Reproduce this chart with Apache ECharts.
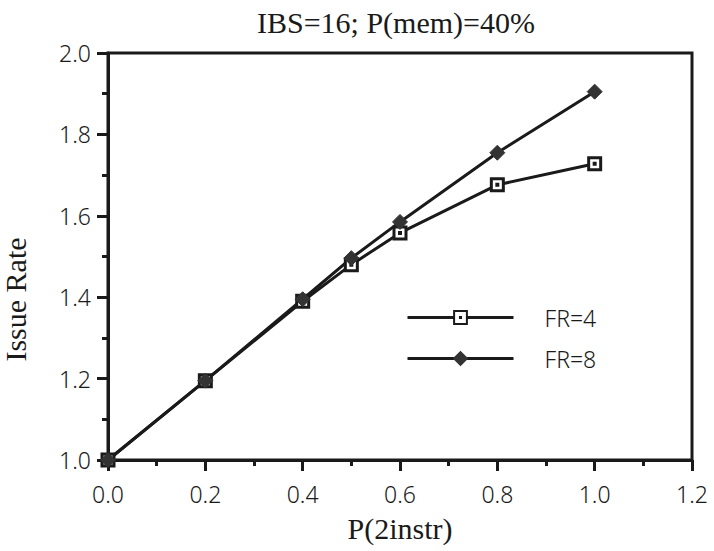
<!DOCTYPE html>
<html>
<head>
<meta charset="utf-8">
<script src="https://cdn.jsdelivr.net/npm/echarts@6/dist/echarts.min.js"></script>
<style>
  html, body { margin: 0; padding: 0; background: #fff; }
  #chart { width: 714px; height: 551px; }
</style>
</head>
<body>
<div id="chart"></div>
<script>
// values
const pInstr = [0, 0.2, 0.4, 0.5, 0.6, 0.8, 1.0];
const fr4 = [1.0, 1.195, 1.39, 1.48, 1.558, 1.676, 1.728];
const fr8 = [1.0, 1.195, 1.395, 1.496, 1.585, 1.755, 1.905];
const seriesNames = ['FR=4', 'FR=8'];

const ink = '#1a1a1a';
const serif = '"Liberation Serif", "Times New Roman", serif';
const sans = '"Noto Sans", "DejaVu Sans", sans-serif';
// open square with a dot in the middle
const squareDot = 'path://M0,0H12V12H0Z M5.5,5.5H6.5V6.5H5.5Z';

const pairs = (ys) => pInstr.map((x, i) => [x, ys[i]]);

const chart = echarts.init(document.getElementById('chart'), null, {renderer: 'svg'});

const option = {
  backgroundColor: '#fff',
  animation: false,
  title: {
    text: 'IBS=16; P(mem)=40%',
    left: 391,
    top: 2,
    textAlign: 'center',
    textStyle: {fontFamily: serif, fontSize: 30, fontWeight: 'normal', color: ink}
  },
  legend: {
    orient: 'vertical',
    left: 401,
    top: 301,
    itemWidth: 106,
    itemHeight: 16,
    itemGap: 18,
    data: seriesNames,
    lineStyle: {width: 3, color: ink},
    textStyle: {fontFamily: sans, fontSize: 23, fontWeight: 300, color: ink, padding: [0, 0, 0, 26]}
  },
  grid: {
    left: 108, right: 22, top: 53, bottom: 91,
    outerBoundsMode: 'none',
    show: true, borderColor: ink, borderWidth: 3
  },
  xAxis: {
    type: 'value',
    min: 0, max: 1.2, interval: 0.2,
    name: 'P(2instr)',
    nameLocation: 'middle',
    nameGap: 53,
    nameTextStyle: {fontFamily: serif, fontSize: 30, color: ink},
    axisLine: {show: true, lineStyle: {color: ink, width: 3}},
    axisTick: {show: true, inside: false, length: 11, lineStyle: {color: ink, width: 3}},
    minorTick: {show: true, splitNumber: 2, length: 6, lineStyle: {color: ink, width: 3}},
    splitLine: {show: false},
    axisLabel: {
      margin: 22, fontFamily: sans, fontSize: 23, fontWeight: 300, color: ink,
      formatter: v => v.toFixed(1)
    }
  },
  yAxis: {
    type: 'value',
    min: 1.0, max: 2.0, interval: 0.2,
    name: 'Issue Rate',
    nameLocation: 'middle',
    nameGap: 78,
    nameTextStyle: {fontFamily: serif, fontSize: 30, color: ink, padding: [0, 86, 0, 0]},
    axisLine: {show: true, lineStyle: {color: ink, width: 3}},
    axisTick: {show: true, inside: false, length: 11, lineStyle: {color: ink, width: 3}},
    minorTick: {show: true, splitNumber: 2, length: 6, lineStyle: {color: ink, width: 3}},
    splitLine: {show: false},
    axisLabel: {
      margin: 17, fontFamily: sans, fontSize: 23, fontWeight: 300, color: ink,
      formatter: v => v.toFixed(1)
    }
  },
  series: [
    {
      name: seriesNames[0],
      type: 'line',
      data: pairs(fr4),
      symbol: squareDot,
      symbolSize: 12,
      showAllSymbol: true,
      lineStyle: {color: ink, width: 3},
      itemStyle: {color: '#fff', borderColor: ink, borderWidth: 3}
    },
    {
      name: seriesNames[1],
      type: 'line',
      data: pairs(fr8),
      symbol: 'diamond',
      symbolSize: 15,
      showAllSymbol: true,
      lineStyle: {color: ink, width: 3},
      itemStyle: {color: '#333', borderColor: '#333', borderWidth: 1}
    }
  ]
};

chart.setOption(option);
</script>
</body>
</html>
